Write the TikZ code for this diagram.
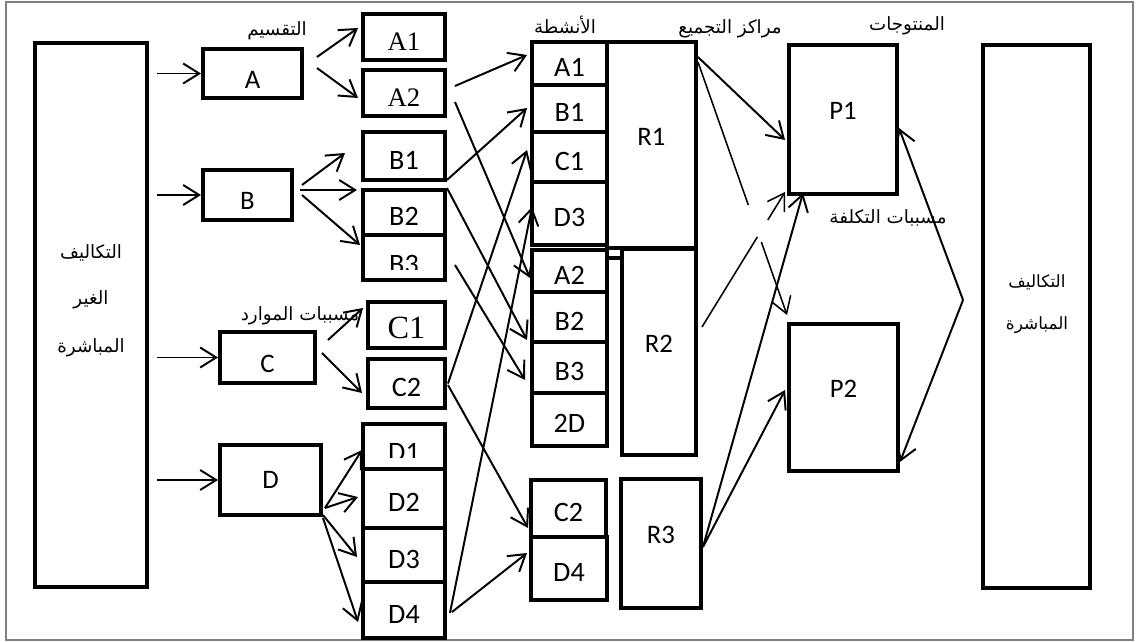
\documentclass[tikz,border=0pt]{standalone}
\usepackage{fontspec}
\setmainfont{Carlito}
\newfontfamily\timesfont{Liberation Serif}
\newfontfamily\arabicfont[Script=Arabic]{DejaVu Sans}
\TeXXeTstate=1
\usetikzlibrary{arrows.meta, calc}

\tikzstyle{box} = [rectangle, draw=black, line width=2.8pt, inner sep=0pt, font=\fontsize{19}{23}\selectfont]
\tikzstyle{pool} = [box, text height=21pt]
\tikzstyle{hub} = [box, text depth=12pt]
\tikzstyle{cell} = [box, text height=19pt, font=\fontsize{20}{24}\selectfont]
\tikzstyle{serifcell} = [cell, font=\timesfont\fontsize{19}{23}\selectfont]
\tikzstyle{cut} = [inner sep=0pt, font=\fontsize{20}{24}\selectfont]
\tikzstyle{artext} = [inner sep=0pt, font=\arabicfont\fontsize{13}{16}\selectfont]
\tikzstyle{arrow} = [line width=1.4pt, -{Straight Barb[length=4mm,width=5mm]}]
\tikzstyle{thinarrow} = [arrow, line width=1.1pt]
\tikzstyle{feed} = [arrow, shorten <=0.2cm]
\tikzstyle{frame} = [draw=gray, line width=0.8pt]
\tikzset{sz/.style 2 args={minimum width=#1*0.025cm, minimum height=#2*0.025cm}}

\begin{document}
\begin{tikzpicture}[x=0.025cm, y=-0.025cm]

    \useasboundingbox (0,0) rectangle (1136,642);
    \draw [frame] (6,2) rectangle (1133,640);

    % cost pools
    \node (indirect) [box, sz={112}{544}] at (91,315) {};
    \node (A) [pool, sz={99}{49}] at (252.5,73.5) {A};
    \node (B) [pool, sz={89}{50}] at (247.5,195) {B};
    \node (C) [pool, sz={95}{51}] at (267.5,357.5) {C};
    \node (D) [box, sz={101}{70}] at (270.5,480) {D};

    % split by resource drivers
    \node (divA1) [serifcell, sz={82}{46}] at (404,37) {A1};
    \node (divA2) [serifcell, sz={82}{46}] at (404,93) {A2};
    \node (divB1) [cell, sz={82}{48}] at (404,156) {B1};
    \node (divB2) [cell, sz={82}{45}] at (404,212.5) {B2};
    \node (divB3) [cell, sz={82}{45}] at (404,257.5) {};
    \node (divC1) [serifcell, sz={77}{46}, font=\timesfont\fontsize{23}{27}\selectfont] at (406.5,325) {C1};
    \node (divC2) [cell, sz={77}{49}] at (406.5,383.5) {C2};
    \node (divD1) [cell, sz={82}{45}] at (404,446.5) {};
    \node (divD2) [cell, sz={82}{59}] at (404,498.5) {D2};
    \node (divD3) [cell, sz={82}{54}] at (404,555) {D3};
    \node (divD4) [cell, sz={82}{56}] at (404,610) {D4};
    \begin{scope}
        \clip (363,237) rectangle (445,270);
        \node (divB3txt) [cut] at (404,264) {B3};
    \end{scope}
    \begin{scope}
        \clip (363,424) rectangle (445,457);
        \node (divD1txt) [cut] at (404,452) {D1};
    \end{scope}

    % activities
    \node (actA1) [cell, sz={75}{43}] at (569.5,63.5) {A1};
    \node (actB1) [cell, sz={75}{47}] at (569.5,108.5) {B1};
    \node (actC1) [cell, sz={75}{50}] at (569.5,157) {C1};
    \node (actD3) [cell, sz={75}{63}] at (569.5,213.5) {D3};
    \node (actA2) [cell, sz={75}{42}] at (569.5,271) {A2};
    \node (actB2) [cell, sz={75}{50}] at (569.5,317) {B2};
    \node (actB3) [cell, sz={75}{51}] at (569.5,367.5) {B3};
    \node (act2D) [cell, sz={75}{53}] at (569.5,419.5) {2D};
    \node (actC2) [cell, sz={75}{57}] at (568.5,508.5) {C2};
    \node (actD4) [cell, sz={76}{63}] at (569,568.5) {D4};

    % cost centres, products
    \node (R1) [hub, sz={89}{206}] at (651.5,145) {R1};
    \node (R2) [hub, sz={74}{206}] at (659,352) {R2};
    \node (R3) [hub, sz={80}{129}] at (661,543.5) {R3};
    \node (P1) [hub, sz={108}{149}] at (843,119.5) {P1};
    \node (P2) [hub, sz={109}{147}] at (843.5,397.5) {P2};
    \node (direct) [box, sz={107}{543}] at (1036.5,316.5) {};
    \draw [line width=2.8pt] ($(actA2.north east)+(0,10)$) -- ($(R2.north west)+(0,11)$);

    % labels
    \node (divlbl) [artext] at (277,31) {\beginR التقسيم\endR};
    \node (actlbl) [artext] at (565,25) {\beginR الأنشطة\endR};
    \node (ctrlbl) [artext] at (730,29) {\beginR مراكز التجميع\endR};
    \node (prodlbl) [artext] at (907,26) {\beginR المنتوجات\endR};
    \node (rdrvlbl) [artext] at (300,316) {\beginR مسببات الموارد\endR};
    \node (cdrvlbl) [artext] at (888,218) {\beginR مسببات التكلفة\endR};
    \node (ind1) [artext] at (91,253) {\beginR التكاليف\endR};
    \node (ind2) [artext] at (91,300) {\beginR الغير\endR};
    \node (ind3) [artext] at (91,348) {\beginR المباشرة\endR};
    \node (dir1) [artext, font=\arabicfont\fontsize{12}{14}\selectfont] at (1037,282) {\beginR التكاليف\endR};
    \node (dir2) [artext, font=\arabicfont\fontsize{12}{14}\selectfont] at (1037,325) {\beginR المباشرة\endR};

    \draw [feed] (indirect.east |- A.west) -- (A.west);
    \draw [feed] (indirect.east |- B.west) -- (B.west);
    \draw [feed] (indirect.east |- C.west) -- (C.west);
    \draw [feed] (indirect.east |- D.west) -- (D.west);

    \draw [arrow] ($(A.east)+(13,-16.5)$) -- ($(divA1.west)+(-3,-9)$);
    \draw [arrow] ($(A.east)+(13,-5.5)$) -- ($(divA2.west)+(-3,5)$);
    \draw [arrow] ($(B.east)+(8,-10)$) -- ($(divB1.west)+(-16,-3)$);
    \draw [arrow] ($(B.east)+(6,-5)$) -- ($(divB2.west)+(-4,-22.5)$);
    \draw [arrow] ($(B.east)+(8,0)$) -- ($(divB3.west)+(-1,-12.5)$);
    \draw [arrow] ($(C.east)+(11,-17.5)$) -- ($(divC1.west)+(-3,-17)$);
    \draw [arrow] ($(C.east)+(5,-4.5)$) -- ($(divC2.west)+(-4,9.5)$);
    \draw [arrow] ($(D.east)+(2,28)$) -- ($(divD1.west)+(1,3.5)$);
    \draw [arrow] ($(D.east)+(2,28)$) -- ($(divD2.west)+(-3,-1.5)$);
    \draw [arrow] ($(D.east)+(0,35)$) -- ($(divD3.west)+(-4,2)$);
    \draw [arrow] ($(D.east)+(0,38)$) -- ($(divD4.west)+(-3,12)$);

    \draw [arrow] ($(divA2.east)+(8,-7)$) -- ($(actA1.west)+(-3,-8.5)$);
    \draw [arrow] ($(divA2.east)+(8,9)$) -- ($(actA2.west)+(0,7)$);
    \draw [arrow] ($(divB1.east)+(0,24)$) -- ($(actB1.west)+(-3,-0.5)$);
    \draw [arrow] ($(divB2.east)+(0,-24.5)$) -- ($(actB2.west)+(-3,23)$);
    \draw [arrow] ($(divB3.east)+(8,7.5)$) -- ($(actB3.west)+(-5,12.5)$);
    \draw [arrow] ($(divC2.east)+(1,0)$) -- ($(actC1.west)+(-3,-7)$);
    \draw [arrow] ($(divC2.east)+(1,1.5)$) -- ($(actC2.west)+(-1,19.5)$);
    \draw [arrow] ($(divD4.east)+(3,3)$) -- ($(actD3.west)+(2,-6.5)$);
    \draw [arrow] ($(divD4.east)+(5,2)$) -- ($(actD4.west)+(-2,-15.5)$);

    \draw [arrow] ($(R1.north east)+(0,17)$) -- ($(P1.west)+(-2,20.5)$);
    \draw [thinarrow, dash pattern=on 107.8pt off 27.9pt on 300pt] ($(R1.north east)+(0,22)$) -- ($(P2.north west)+(0,-7)$);
    \draw [thinarrow, dash pattern=on 75.2pt off 14.2pt on 300pt] ($(R2.east)+(4,-25)$) -- ($(P1.south west)+(-2,-4)$);
    \draw [arrow] ($(R3.east)+(0,3.5)$) -- ($(P1.south west)+(16,-3)$);
    \draw [arrow] ($(R3.east)+(0,3.5)$) -- ($(P2.west)+(-2,-7.5)$);

    \coordinate (fork) at ($(direct.west)+(-18,-16.5)$);
    \draw [arrow] (fork) -- ($(P1.east)+(0,8.5)$);
    \draw [arrow] (fork) -- ($(P2.south east)+(0,-11)$);

\end{tikzpicture}
\end{document}
